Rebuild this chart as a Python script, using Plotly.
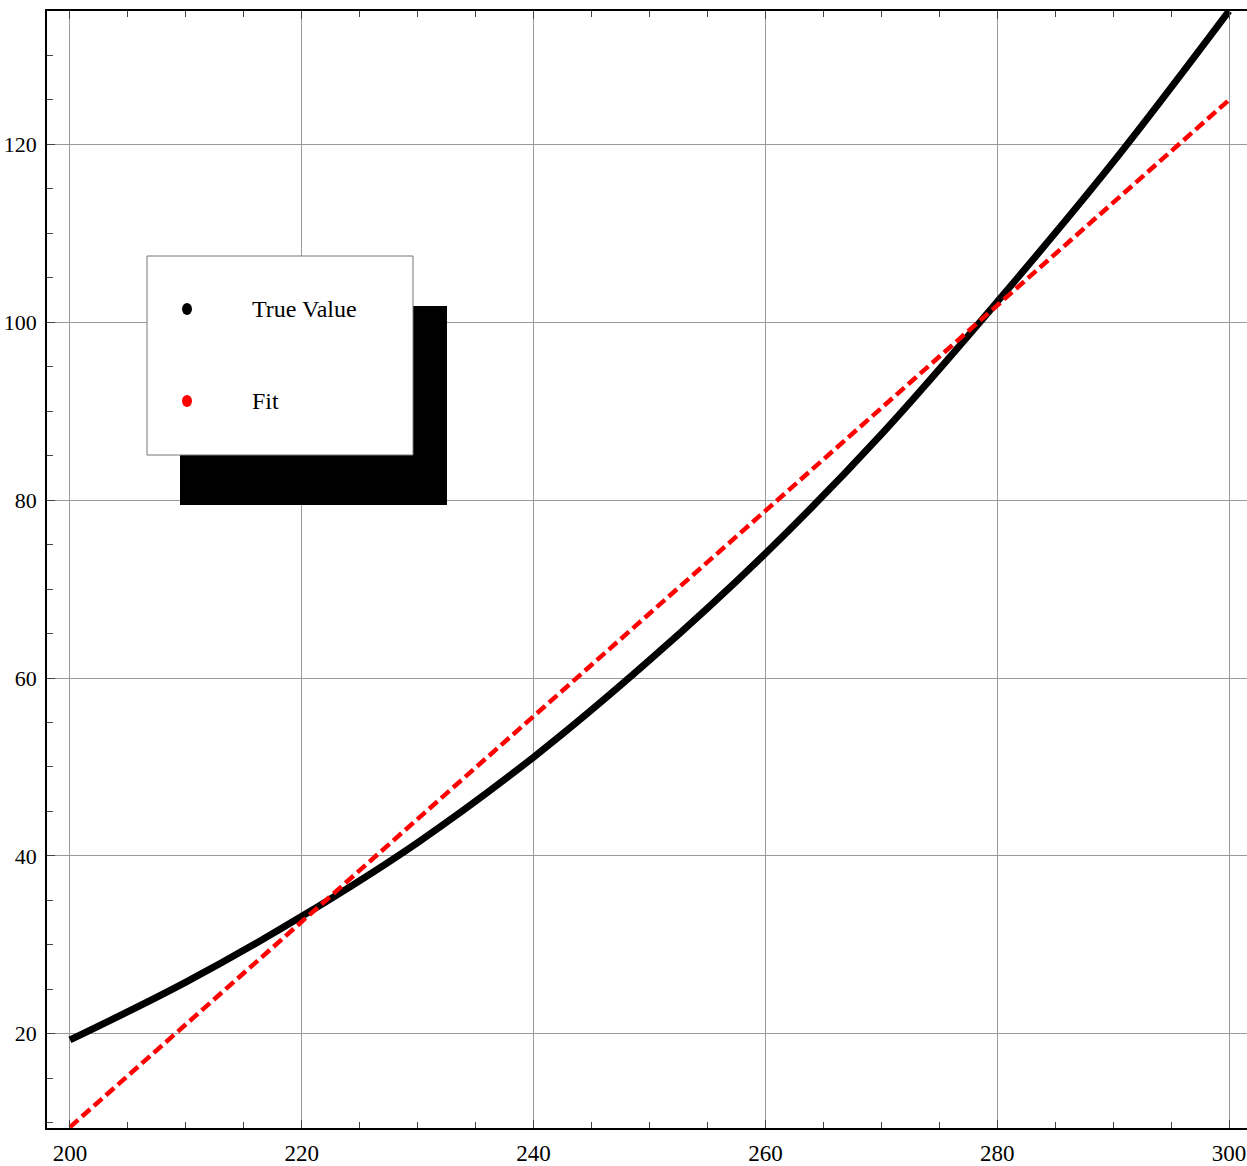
import plotly.graph_objects as go

# Data
x_true = [200, 210, 220, 230, 240, 250, 260, 270, 280, 290, 300]
y_true = [19.3, 25.8, 33.2, 41.5, 51.1, 62.0, 74.0, 87.4, 102.3, 118.0, 135.0]

x_fit = [200, 300]
y_fit = [9.5, 125.0]

legend_labels = ["True Value", "Fit"]
legend_colors = ["black", "red"]

W, H = 1247, 1166
L, R, T, B = 47, 0, 11, 38
PW, PH = W - L - R, H - T - B

def px(xp):
    return (xp - L) / PW

def py(yp):
    return (H - B - yp) / PH

FONT = "Liberation Serif"

fig = go.Figure()
fig.add_trace(go.Scatter(x=x_true, y=y_true, mode="lines", line=dict(color="black", width=7, shape="spline"),
                         showlegend=False, hoverinfo="skip"))
fig.add_trace(go.Scatter(x=x_fit, y=y_fit, mode="lines", line=dict(color="red", width=4.5, dash="11px,5px"),
                         showlegend=False, hoverinfo="skip"))

shapes = []
# legend shadow
shapes.append(dict(type="rect", xref="paper", yref="paper", x0=px(180), x1=px(447), y0=py(505), y1=py(306),
                   fillcolor="black", line=dict(width=0), layer="above"))
# legend box
shapes.append(dict(type="rect", xref="paper", yref="paper", x0=px(147), x1=px(413), y0=py(455), y1=py(256),
                   fillcolor="white", line=dict(color="#777", width=1), layer="above"))
annotations = []
for i, (lab, col) in enumerate(zip(legend_labels, legend_colors)):
    yy = 309 + i * 92
    shapes.append(dict(type="circle", xref="paper", yref="paper", xsizemode="pixel", ysizemode="pixel",
                       xanchor=px(187), yanchor=py(yy), x0=-5, x1=5, y0=-6, y1=6,
                       fillcolor=col, line=dict(width=0), layer="above"))
    annotations.append(dict(xref="paper", yref="paper", x=px(250), y=py(yy), text=lab, showarrow=False,
                            xanchor="left", yanchor="middle", font=dict(family=FONT, size=24, color="black")))

fig.update_layout(
    width=W, height=H,
    margin=dict(l=L, r=R, t=T, b=B, pad=0, autoexpand=False),
    paper_bgcolor="white", plot_bgcolor="white",
    shapes=shapes, annotations=annotations,
    font=dict(family=FONT, size=22, color="black"),
    showlegend=False,
)
fig.update_xaxes(range=[198.02, 301.55], tickvals=[200, 220, 240, 260, 280, 300],
                 showgrid=True, gridcolor="#999", gridwidth=1, zeroline=False,
                 showline=True, linecolor="black", linewidth=1.5, mirror="ticks",
                 ticks="inside", ticklen=8, tickcolor="#444", tickwidth=1,
                 minor=dict(dtick=5, tick0=200, ticks="inside", ticklen=6, tickcolor="#444", showgrid=False),
                 tickfont=dict(family=FONT, size=23), ticklabelstandoff=4, automargin=False)
fig.update_yaxes(range=[9.4, 135.0], tickvals=[20, 40, 60, 80, 100, 120],
                 showgrid=True, gridcolor="#999", gridwidth=1, zeroline=False,
                 showline=True, linecolor="black", linewidth=1.5, mirror=False,
                 ticks="inside", ticklen=8, tickcolor="#444", tickwidth=1,
                 minor=dict(dtick=5, tick0=0, ticks="inside", ticklen=6, tickcolor="#444", showgrid=False),
                 tickfont=dict(family=FONT, size=22), ticklabelstandoff=4, automargin=False)

fig.write_html("out.html",
               config={"displayModeBar": False},
               post_script="document.body.style.margin='0';document.body.style.overflow='hidden';")
